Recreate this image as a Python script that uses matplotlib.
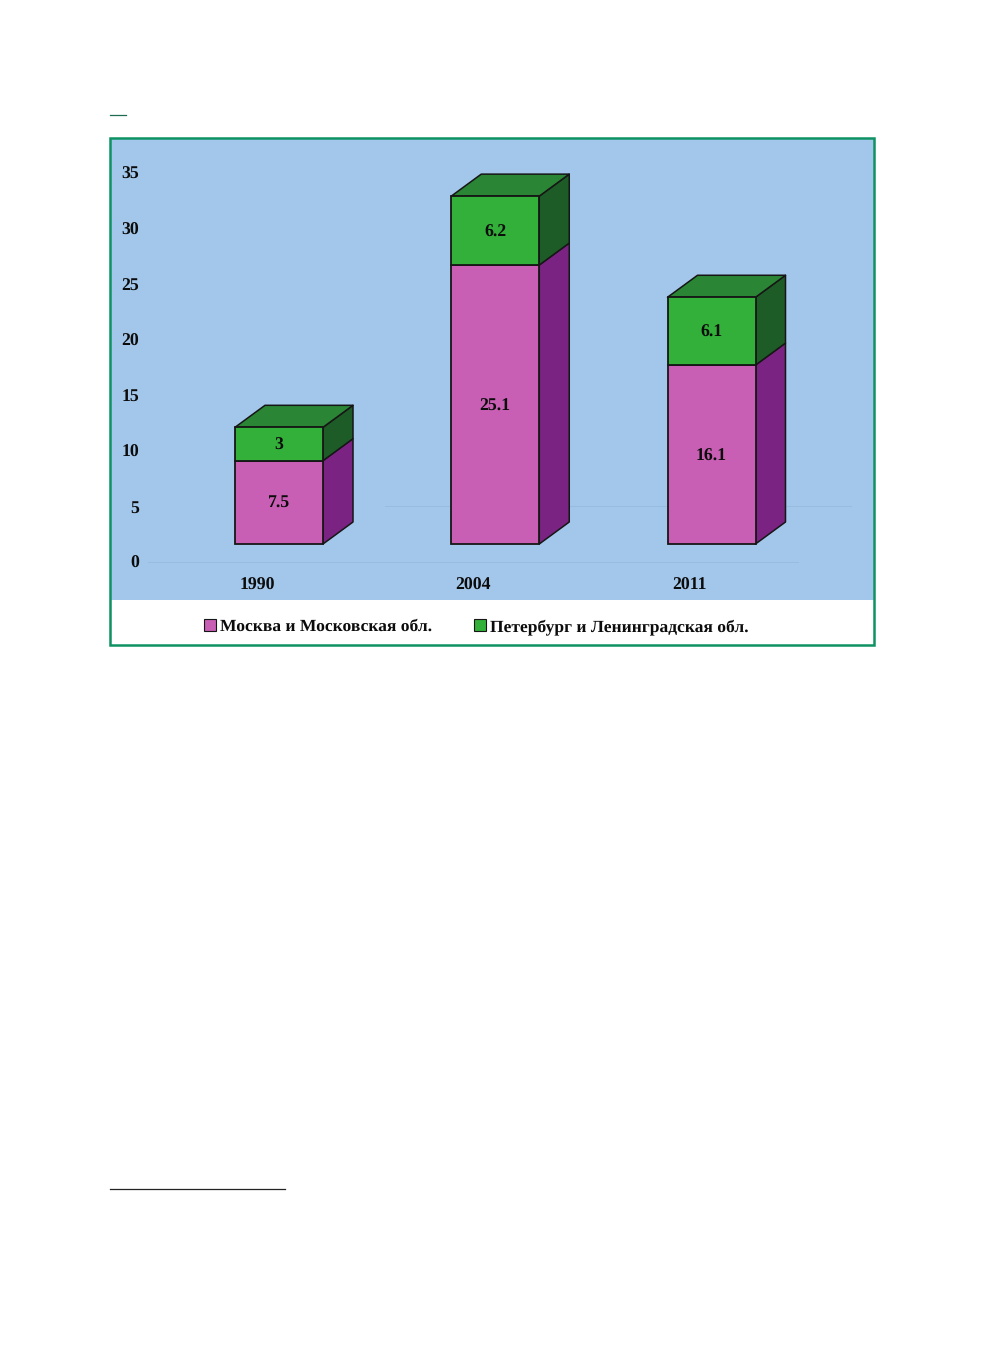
import matplotlib
matplotlib.use("Agg")
import matplotlib.pyplot as plt
from matplotlib.lines import Line2D
from matplotlib.patches import Patch, Polygon, Rectangle
from matplotlib.transforms import Affine2D, ScaledTranslation

plt.rcParams['font.family'] = ['Liberation Serif', 'DejaVu Serif']
plt.rcParams['font.weight'] = 'bold'
plt.rcParams['text.hinting'] = 'none'

# Data
years = ['1990', '2004', '2011']
moscow = [7.5, 25.1, 16.1]
petersburg = [3, 6.2, 6.1]
moscow_labels = ['7.5', '25.1', '16.1']
petersburg_labels = ['3', '6.2', '6.1']
y_ticks = [0, 5, 10, 15, 20, 25, 30, 35]
legend_names = ['Москва и Московская обл.', 'Петербург и Ленинградская обл.']

W, H = 986, 1352
dpi = 100

# Colours
blue = '#A3C7EB'
frame_col = '#0E9264'
pink = '#C85FB4'
pink_side = '#7A2382'
green = '#33B039'
green_side = '#1E5C27'
green_top = '#2A8534'
edge = '#161616'
text_col = '#0C0C0C'

fig = plt.figure(figsize=(W / dpi, H / dpi), dpi=dpi, facecolor='white')

# Panel in pixels, the y axis has 0 at pixel 562 and 35 at pixel 173
px_left, px_right, px_top, px_bottom = 110, 874, 138, 600
ax = fig.add_axes([px_left / W, 1 - px_bottom / H, (px_right - px_left) / W, (px_bottom - px_top) / H])
x_px = 216.25
y_px = 11.114
ax.set_xlim((px_left - 279) / x_px, (px_right - 279) / x_px)
ax.set_ylim((562 - px_bottom) / y_px, (562 - px_top) / y_px)
ax.set_facecolor(blue)
for s in ax.spines.values():
    s.set_visible(False)

# Faint gridlines, only partly visible in the scan
ax.axhline(0, 0.05, 0.90, color='#98BCDD', lw=0.7, zorder=1)
ax.axhline(5, 0.36, 0.97, color='#98BCDD', lw=0.7, zorder=1)

# Bars stand 18 px above the axis zero
front = ax.transData + Affine2D().translate(0, 18)
label_trans = ax.transData + Affine2D().translate(0, 16.5)
bar_w = 88 / x_px
dx = 30 / x_px
dy = 22 / y_px


def draw_block(x, bottom, height, col, side_col):
    r = x + bar_w / 2
    ax.add_patch(Polygon([(r, bottom), (r + dx, bottom + dy), (r + dx, bottom + height + dy), (r, bottom + height)],
                         closed=True, fc=side_col, ec=edge, lw=1.1, transform=front, zorder=3, joinstyle='round'))
    ax.bar(x, height, bar_w, bottom=bottom, color=col, edgecolor=edge, linewidth=1.3, transform=front, zorder=4)


for i in range(len(years)):
    draw_block(i, 0, moscow[i], pink, pink_side)
    draw_block(i, moscow[i], petersburg[i], green, green_side)
    top = moscow[i] + petersburg[i]
    l = i - bar_w / 2
    r = i + bar_w / 2
    ax.add_patch(Polygon([(l, top), (l + dx, top + dy), (r + dx, top + dy), (r, top)],
                         closed=True, fc=green_top, ec=edge, lw=1.1, transform=front, zorder=3, joinstyle='round'))
    ax.text(i, moscow[i] / 2, moscow_labels[i], ha='center', va='center', fontsize=12.8, color=text_col,
            transform=label_trans, zorder=5)
    ax.text(i, moscow[i] + petersburg[i] / 2, petersburg_labels[i], ha='center', va='center', fontsize=12.8,
            color=text_col, transform=label_trans, zorder=5)

ax.set_yticks(y_ticks)
ax.set_xticks(range(len(years)))
ax.set_xticklabels(years)
ax.tick_params(axis='y', length=0, pad=-21, labelsize=12.8, labelcolor=text_col)
ax.tick_params(axis='x', length=0, pad=-16.5, labelsize=12.8, labelcolor=text_col)
# Year labels sit left of the bars
shift = ScaledTranslation(-22 / dpi, 0, fig.dpi_scale_trans)
for lab in ax.get_xticklabels():
    lab.set_transform(lab.get_transform() + shift)

handles = [Patch(fc=pink, ec=edge, lw=0.8), Patch(fc=green, ec=edge, lw=0.8)]
fig.legend(handles, legend_names, loc='center left', bbox_to_anchor=(204 / W, 1 - 627 / H), ncol=2, frameon=False,
           fontsize=12.6, handlelength=0.69, handleheight=0.69, handletextpad=0.23, columnspacing=2.4,
           borderpad=0, borderaxespad=0, labelcolor=text_col)

# Green frame round the whole chart
fig.add_artist(Rectangle((px_left / W, 1 - 645 / H), (px_right - px_left) / W, (645 - px_top) / H, fill=False,
                         ec=frame_col, lw=1.8, transform=fig.transFigure))

# Leftover rules from the page
fig.add_artist(Line2D([110 / W, 126 / W], [1 - 115 / H, 1 - 115 / H], color='#1F6B52', lw=0.9))
fig.add_artist(Line2D([110 / W, 285 / W], [1 - 1189 / H, 1 - 1189 / H], color='#222222', lw=0.9))

fig.savefig('out.png', dpi=dpi, facecolor='white')
